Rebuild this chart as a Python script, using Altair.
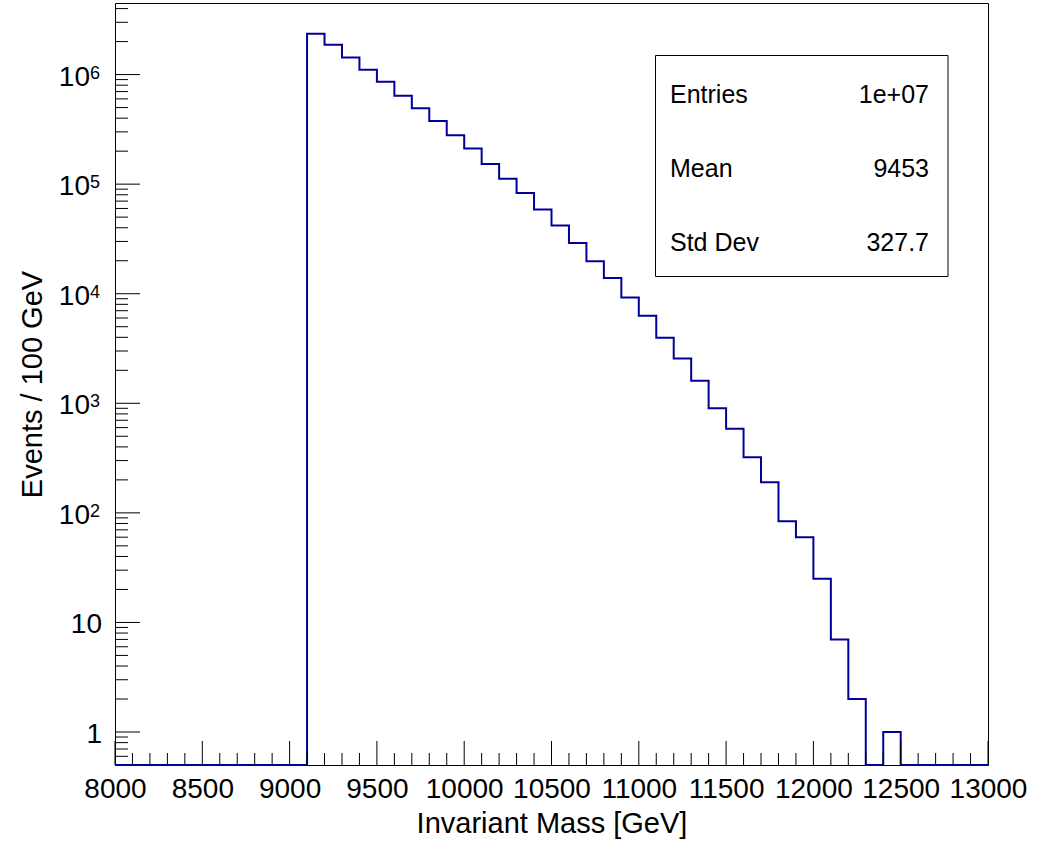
import altair as alt
import pandas as pd

# ---- data ----
bin_low_edges = list(range(8000, 13000, 100))  # 50 bins of 100 GeV
counts = (
    [0] * 11
    + [2355000, 1870000, 1430000, 1107000, 860000, 641000, 494000, 376000,
       279000, 211000, 153000, 112000, 83000, 58600, 41900, 29000,
       19800, 13900, 9230, 6280, 3970, 2570, 1610, 900,
       585, 322, 190, 84, 60, 25, 7, 2]
    + [0, 1]
    + [0] * 5
)
x_major_ticks = list(range(8000, 13001, 500))
x_minor_ticks = [v for v in range(8000, 13001, 100) if v % 500 != 0]
y_major_ticks = [1, 10, 100, 1e3, 1e4, 1e5, 1e6]
y_minor_ticks = [0.6, 0.7, 0.8, 0.9] + [m * 10 ** k for k in range(0, 6) for m in range(2, 10)] + [2e6, 3e6, 4e6]
plain_labels_v = [1, 10]
plain_labels_t = ["1", "10"]
pow_labels_v = [100, 1e3, 1e4, 1e5, 1e6]
pow_labels_exp = ["2", "3", "4", "5", "6"]
stat_names = ["Entries", "Mean", "Std Dev"]
stat_values = ["1e+07", "9453", "327.7"]

X_DOMAIN = [8000, 13000]
Y_DOMAIN = [0.5, 4.5e6]
W, H = 873, 762
FONT = "Liberation Sans"
LINE = "#000099"

xs = alt.Scale(domain=X_DOMAIN, nice=False, zero=False)
ys = alt.Scale(type="log", domain=Y_DOMAIN, nice=False)

hist_df = pd.DataFrame({
    "edge": bin_low_edges + [X_DOMAIN[1]],
    "count": counts + [counts[-1]],
})

hist = (
    alt.Chart(hist_df)
    .transform_calculate(ploty="max(datum.count, 0.5)")
    .mark_line(interpolate="step-after", color=LINE, strokeWidth=2)
    .encode(
        x=alt.X("edge:Q", scale=xs,
                axis=alt.Axis(values=x_major_ticks, format="d", ticks=False, domain=False, grid=False,
                              labelFont=FONT, labelFontSize=28, labelColor="black",
                              labelPadding=10, labelFlush=False, labelOverlap=False,
                              title="Invariant Mass [GeV]", titleFont=FONT, titleFontSize=29,
                              titleFontWeight="normal", titleColor="black", titlePadding=6)),
        y=alt.Y("ploty:Q", scale=ys,
                axis=alt.Axis(labels=False, ticks=False, domain=False, grid=False,
                              title="Events / 100 GeV", titleFont=FONT, titleFontSize=29,
                              titleFontWeight="normal", titleColor="black", titlePadding=68)),
    )
)

xmaj = alt.Chart(pd.DataFrame({"v": x_major_ticks})).mark_rule(color="black", strokeWidth=1).encode(
    x=alt.X("v:Q", scale=xs), y=alt.value(H - 24), y2=alt.value(H))
xmin = alt.Chart(pd.DataFrame({"v": x_minor_ticks})).mark_rule(color="black", strokeWidth=1).encode(
    x=alt.X("v:Q", scale=xs), y=alt.value(H - 12), y2=alt.value(H))
ymaj = alt.Chart(pd.DataFrame({"v": y_major_ticks})).mark_rule(color="black", strokeWidth=1).encode(
    y=alt.Y("v:Q", scale=ys), x=alt.value(0), x2=alt.value(25))
ymin = alt.Chart(pd.DataFrame({"v": y_minor_ticks})).mark_rule(color="black", strokeWidth=1).encode(
    y=alt.Y("v:Q", scale=ys), x=alt.value(0), x2=alt.value(13))

plain_lab = alt.Chart(pd.DataFrame({"v": plain_labels_v, "t": plain_labels_t})).mark_text(
    font=FONT, fontSize=28, align="right", baseline="middle", dy=3, color="black").encode(
    y=alt.Y("v:Q", scale=ys), x=alt.value(-13), text="t:N")
pow_base = alt.Chart(pd.DataFrame({"v": pow_labels_v})).mark_text(
    font=FONT, fontSize=28, align="right", baseline="middle", dy=3, color="black", text="10").encode(
    y=alt.Y("v:Q", scale=ys), x=alt.value(-25))
pow_exp = alt.Chart(pd.DataFrame({"v": pow_labels_v, "e": pow_labels_exp})).mark_text(
    font=FONT, fontSize=18, align="left", baseline="top", dy=-10, color="black").encode(
    y=alt.Y("v:Q", scale=ys), x=alt.value(-25), text="e:N")

box = alt.Chart(pd.DataFrame({"a": [0]})).mark_rect(fill="white", stroke="black", strokeWidth=1).encode(
    x=alt.value(540.5), x2=alt.value(833), y=alt.value(52.5), y2=alt.value(273.5))

stat_layers = []
for i, (n, v) in enumerate(zip(stat_names, stat_values)):
    d = pd.DataFrame({"n": [n], "v": [v]})
    ypix = 99.6 + 74.2 * i
    stat_layers.append(alt.Chart(d).mark_text(font=FONT, fontSize=25, align="left", baseline="alphabetic",
                                              color="black").encode(x=alt.value(555), y=alt.value(ypix), text="n:N"))
    stat_layers.append(alt.Chart(d).mark_text(font=FONT, fontSize=25, align="right", baseline="alphabetic",
                                              color="black").encode(x=alt.value(814), y=alt.value(ypix), text="v:N"))

chart = (
    alt.layer(hist, xmin, xmaj, ymin, ymaj, plain_lab, pow_base, pow_exp, box, *stat_layers)
    .properties(width=W, height=H,
                autosize=alt.AutoSizeParams(type="none"),
                padding={"left": 115, "top": 3, "right": 55, "bottom": 78},
                background="white")
    .configure_view(stroke="black", strokeWidth=1)
)

chart.save("out.html", embed_options={"renderer": "svg", "actions": False})
